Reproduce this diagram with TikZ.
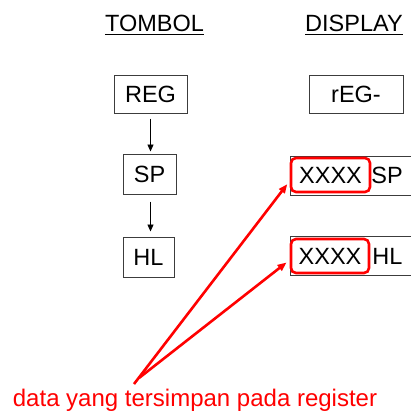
\documentclass[tikz,border=0pt]{standalone}
\usepackage{fontspec}
\setmainfont{Liberation Sans}
\usetikzlibrary{arrows.meta}
\definecolor{boxgray}{RGB}{60,60,60}
\begin{document}
\begin{tikzpicture}[x=1pt,y=-1pt,
  every node/.style={font=\fontsize{23.5}{26}\selectfont, inner sep=0pt},
  keybox/.style={draw=boxgray, line width=1pt, minimum height=#1},
  keybox/.default=40pt,
  redbox/.style={draw=red, line width=2.6pt, rounded corners=5pt, minimum width=78pt, minimum height=34pt},
  blk/.style={-{Triangle[length=7pt,width=6pt]}, line width=0.9pt, black},
  redarr/.style={-{Triangle[length=9pt,width=7pt]}, line width=2.6pt, red},
  uline/.style={line width=1pt, black}]
\useasboundingbox (0,0) rectangle (411,413);
% headings
\node[anchor=base] (tombol) at (154.5,31) {TOMBOL};
\node[anchor=base] (display) at (354,31) {DISPLAY};
\draw[uline] ([yshift=-3pt]tombol.base west) -- ([yshift=-3pt]tombol.base east);
\draw[uline] ([yshift=-3pt]display.base west) -- ([yshift=-3pt]display.base east);
% key boxes
\node[keybox=38pt, minimum width=73pt] (reg) at (150.5,94) {REG};
\node[keybox, minimum width=53pt] (sp) at (149.5,174) {SP};
\node[keybox, minimum width=51pt] (hl) at (148.5,257) {HL};
\node[keybox=38pt, minimum width=94pt] (rdisp) at (356,94) {rEG-};
\draw[blk, shorten <=5pt, shorten >=2pt] (reg.south) -- (reg.south |- sp.north);
\draw[blk, shorten <=7pt, shorten >=5pt] (reg.south |- sp.south) -- (reg.south |- hl.north);
% display boxes (cut by the right edge)
\coordinate (spdtl) at (290,156);
\coordinate (spdbl) at (290,195);
\coordinate (hldtl) at (290,236);
\coordinate (hldbl) at (290,275);
\draw[draw=boxgray, line width=1pt] (415,156) -- (spdtl) -- (spdbl) -- (415,195);
\draw[draw=boxgray, line width=1pt] (415,236) -- (hldtl) -- (hldbl) -- (415,275);
\node[redbox, minimum width=79pt] (xsp) at (330.5,175) {XXXX};
\node[redbox] (xhl) at (330,256) {XXXX};
\node (spt) at (387,175) {SP};
\node (hlt) at (387.5,256) {HL};
% label and red arrows
\node[anchor=base, text=red, font=\fontsize{24}{27}\selectfont] (lbl) at (195,406) {data yang tersimpan pada register};
\coordinate (s1) at (134,384);
\coordinate (s2) at (139,378);
\draw[redarr, shorten >=4pt] (s1) -- ([yshift=-6pt]xsp.west);
\draw[redarr, shorten >=4pt] (s2) -- ([yshift=-4pt]xhl.west);
\end{tikzpicture}
\end{document}
